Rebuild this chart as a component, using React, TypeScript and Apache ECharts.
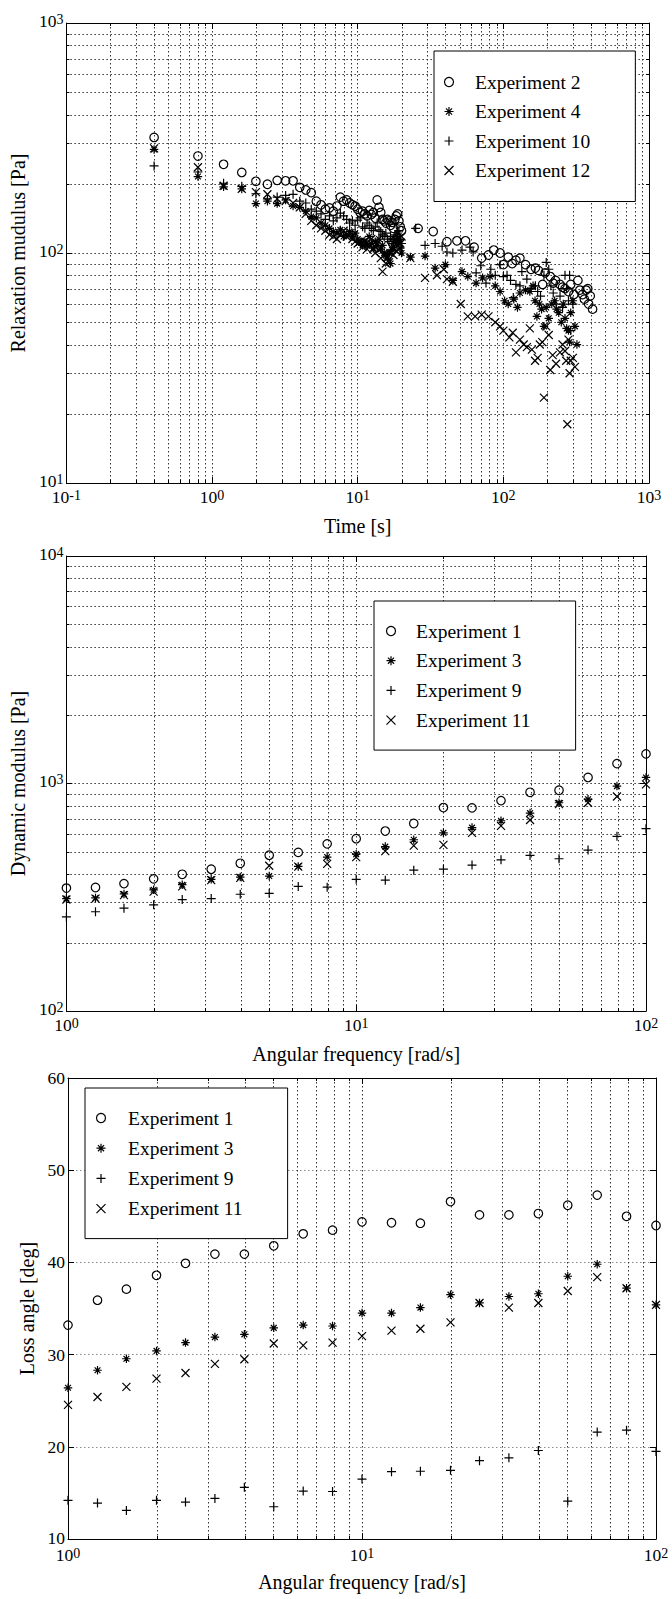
import React, { useEffect, useRef } from "react";
import * as echarts from "echarts";

// ---------- Panel 1: relaxation modulus vs time ([s], [Pa]) ----------
const exp2Relax: [number, number][] = [
  [0.4, 318], [0.8, 264], [1.2, 243], [1.6, 224], [2.0, 205], [2.4, 199], [2.8, 207], [3.2, 206], [3.6, 206], [4.0, 193],
  [4.4, 188], [4.8, 183], [5.2, 168], [5.6, 162], [6.0, 155], [6.4, 157], [6.8, 152], [7.2, 160], [7.6, 175], [8.0, 168],
  [8.4, 170], [8.8, 165], [9.2, 162], [9.6, 160], [10.0, 155], [10.4, 150], [10.8, 152], [11.2, 148], [11.6, 145], [12.0, 153],
  [12.4, 147], [12.8, 150], [13.2, 142], [13.6, 170], [14.0, 158], [14.4, 150], [14.8, 140], [15.2, 138], [15.6, 135], [16.0, 140],
  [16.4, 138], [16.8, 132], [17.2, 136], [17.6, 128], [18.0, 140], [18.4, 145], [18.8, 148], [19.2, 138], [19.6, 130], [20.0, 125],
  [26, 128], [33, 124], [41, 112], [48, 113], [55, 113], [63, 106], [71, 95], [79, 98], [86, 103], [95, 100],
  [100, 89], [108, 96], [115, 90], [122, 93], [130, 95], [142, 89], [155, 85], [166, 86], [174, 84], [186, 73],
  [194, 82], [210, 79], [220, 74], [228, 76], [245, 73], [255, 71], [265, 70], [280, 68], [290, 73], [305, 66],
  [325, 76], [335, 69], [350, 66], [360, 63], [370, 69], [380, 70], [385, 60], [395, 65], [410, 57],
];
const exp4Relax: [number, number][] = [
  [0.4, 282], [0.8, 215], [1.2, 194], [1.6, 190], [2.0, 164], [2.4, 168], [2.8, 164], [3.2, 170], [3.6, 160], [4.0, 158],
  [4.4, 152], [4.8, 144], [5.2, 142], [5.6, 135], [6.0, 132], [6.4, 128], [6.8, 124], [7.2, 122], [7.6, 126], [8.0, 118],
  [8.4, 120], [8.8, 124], [9.2, 118], [9.6, 122], [10.0, 115], [10.4, 112], [10.8, 108], [11.2, 113], [11.6, 108], [12.0, 118],
  [12.4, 110], [12.8, 105], [13.2, 112], [13.6, 108], [14.0, 115], [14.4, 104], [14.8, 108], [15.2, 100], [15.6, 98], [16.0, 95],
  [16.4, 100], [16.8, 90], [17.2, 103], [17.6, 106], [18.0, 114], [18.4, 110], [18.8, 122], [19.2, 112], [19.6, 105], [20.0, 100],
  [23, 96], [29, 97], [34, 86], [40, 89], [45, 76], [52, 83], [57, 79], [65, 74], [72, 78], [81, 79],
  [88, 72], [95, 68], [102, 62], [108, 60], [118, 63], [125, 58], [130, 67], [142, 69], [152, 68], [160, 72],
  [165, 62], [170, 53], [177, 60], [183, 57], [190, 48], [197, 58], [205, 52], [215, 60], [225, 62], [232, 57],
  [240, 55], [250, 50], [258, 60], [265, 52], [272, 47], [280, 46], [285, 41], [290, 55], [300, 62], [310, 48], [320, 40],
];
const exp10Relax: [number, number][] = [
  [0.4, 239], [0.8, 225], [1.2, 201], [1.6, 195], [2.0, 181], [2.4, 172], [2.8, 175], [3.2, 178], [3.6, 180], [4.0, 168],
  [4.4, 165], [4.8, 155], [5.2, 152], [5.6, 148], [6.0, 140], [6.4, 145], [6.8, 138], [7.2, 142], [7.6, 149], [8.0, 145],
  [8.4, 140], [8.8, 135], [9.2, 138], [9.6, 132], [10.0, 139], [10.4, 142], [10.8, 130], [11.2, 128], [11.6, 135], [12.0, 132],
  [12.4, 128], [12.8, 125], [13.2, 130], [13.6, 135], [14.0, 126], [14.4, 124], [14.8, 120], [15.2, 118], [15.6, 122], [16.0, 115],
  [16.4, 112], [16.8, 118], [17.2, 110], [17.6, 115], [18.0, 120], [18.4, 118], [18.8, 112], [19.2, 125], [19.6, 115], [20.0, 110],
  [25, 128], [29, 108], [34, 110], [38, 107], [41, 101], [45, 100], [52, 103], [59, 106], [62, 101], [65, 82],
  [70, 88], [76, 74], [82, 85], [88, 80], [95, 89], [100, 79], [106, 80], [112, 76], [117, 64], [122, 73],
  [130, 72], [134, 83], [145, 77], [155, 70], [166, 72], [172, 68], [180, 65], [190, 80], [197, 91], [205, 85],
  [212, 72], [220, 67], [230, 60], [245, 65], [255, 58], [265, 80], [272, 70], [280, 62], [285, 80], [290, 46], [300, 60],
];
const exp12Relax: [number, number][] = [
  [0.4, 285], [0.8, 236], [1.2, 196], [1.6, 190], [2.0, 184], [2.4, 180], [2.8, 172], [3.2, 168], [3.6, 165], [4.0, 158],
  [4.4, 148], [4.8, 138], [5.2, 132], [5.6, 128], [6.0, 125], [6.4, 120], [6.8, 118], [7.2, 115], [7.6, 120], [8.0, 125],
  [8.4, 118], [8.8, 122], [9.2, 115], [9.6, 112], [10.0, 110], [10.4, 112], [10.8, 106], [11.2, 112], [11.6, 104], [12.0, 108],
  [12.4, 115], [12.8, 104], [13.2, 100], [13.6, 110], [14.0, 103], [14.4, 95], [14.8, 83], [15.2, 98], [15.6, 90], [16.0, 96],
  [16.4, 91], [16.8, 100], [17.2, 105], [17.6, 98], [18.0, 112], [18.4, 102], [18.8, 108], [19.2, 116], [19.6, 110], [20.0, 118],
  [23, 95], [29, 78], [35, 80], [39, 85], [41, 77], [45, 75], [51, 60], [57, 53], [64, 53], [71, 54],
  [79, 53], [88, 50], [95, 48], [100, 46], [110, 43], [116, 45], [122, 37], [130, 42], [138, 40], [145, 39],
  [152, 47], [157, 38], [165, 34], [172, 35], [178, 40], [185, 41], [190, 23.5], [197, 48], [205, 44], [210, 31],
  [218, 36], [230, 33], [245, 37], [255, 40], [265, 37.5], [270, 34], [275, 18], [280, 42], [285, 30], [290, 34], [300, 35], [310, 32],
];

// ---------- Panels 2 & 3: oscillatory tests ----------
const frequency = [1, 1.26, 1.58, 2, 2.51, 3.16, 3.98, 5.01, 6.31, 7.94, 10, 12.6, 15.8, 20, 25.1, 31.6, 39.8, 50.1, 63.1, 79.4, 100];

const dyn1 = [347, 349, 363, 381, 399, 420, 446, 484, 498, 543, 572, 618, 667, 784, 781, 841, 915, 934, 1063, 1223, 1349];
const dyn3 = [312, 314, 327, 341, 359, 379, 388, 392, 432, 475, 489, 528, 566, 607, 640, 686, 741, 823, 853, 974, 1063];
const dyn9 = [259, 273, 283, 293, 309, 312, 326, 329, 353, 350, 379, 376, 416, 420, 438, 462, 483, 467, 510, 586, 633];
const dyn11 = [309, 312, 323, 335, 353, 376, 385, 435, 431, 443, 475, 504, 533, 537, 607, 651, 691, 812, 823, 877, 991];

const loss1 = [33.2, 35.9, 37.1, 38.6, 39.9, 40.9, 40.9, 41.8, 43.1, 43.5, 44.4, 44.3, 44.25, 46.6, 45.15, 45.15, 45.3, 46.2, 47.3, 45.0, 44.0];
const loss3 = [26.4, 28.3, 29.55, 30.4, 31.3, 31.9, 32.2, 32.9, 33.2, 33.1, 34.5, 34.5, 35.1, 36.5, 35.6, 36.3, 36.6, 38.5, 39.8, 37.2, 35.4];
const loss9 = [14.2, 13.9, 13.1, 14.2, 14.0, 14.4, 15.6, 13.5, 15.2, 15.15, 16.5, 17.3, 17.35, 17.45, 18.5, 18.8, 19.6, 14.1, 21.6, 21.8, 19.5];
const loss11 = [24.55, 25.4, 26.5, 27.4, 28.0, 29.0, 29.5, 31.2, 31.0, 31.3, 32.0, 32.6, 32.8, 33.5, 35.6, 35.1, 35.6, 36.9, 38.4, 37.2, 35.4];

const legend1 = ["Experiment 2", "Experiment 4", "Experiment 10", "Experiment 12"];
const legend23 = ["Experiment 1", "Experiment 3", "Experiment 9", "Experiment 11"];

const lossTicks = [10, 20, 30, 40, 50, 60];

// axis extents (decades)
const p1X = [0.1, 1000];
const p1Y = [10, 1000];
const p2X = [1, 100];
const p2Y = [100, 10000];
const p3X = [1, 100];

const FONT = "Liberation Serif";
const GRID = "#333";
const DASH = [1.5, 2.5];

const SYM_CIRCLE = "circle";
const SYM_STAR = "path://M5 0L5 10M0 5L10 5M1.6 1.6L8.4 8.4M8.4 1.6L1.6 8.4";
const SYM_PLUS = "path://M5 0L5 10M0 5L10 5";
const SYM_CROSS = "path://M0 0L10 10M10 0L0 10";

function minorValues(lo: number, hi: number): number[] {
  const out: number[] = [];
  for (let d = lo; d < hi * 0.999; d *= 10) {
    for (let k = 2; k <= 9; k++) out.push(Number((d * k).toPrecision(3)));
  }
  return out;
}

const zip = (xs: number[], ys: number[]) => xs.map((x, i) => [x, ys[i]]);

const supLabel = (v: number) => `{b|10}{s|${Math.round(Math.log10(v))}}`;

const xRich = {
  b: { fontFamily: FONT, fontSize: 17.5, lineHeight: 17.5, color: "#000", padding: [9.5, 0, 0, 0], verticalAlign: "bottom" },
  s: { fontFamily: FONT, fontSize: 14, lineHeight: 14, color: "#000", verticalAlign: "top" },
};
const yRich = {
  b: { fontFamily: FONT, fontSize: 17.5, lineHeight: 17.5, color: "#000", padding: [6, 0, 0, 0], verticalAlign: "bottom" },
  s: { fontFamily: FONT, fontSize: 14, lineHeight: 14, color: "#000", verticalAlign: "top" },
};

const axisLine = { show: true, onZero: false, lineStyle: { color: "#000", width: 1 } };
const tickIn = { show: true, inside: true, length: 6, lineStyle: { color: "#000", width: 1 } };
const nameStyle = { fontFamily: FONT, fontSize: 20, color: "#000" };

function mainX(gridIndex: number, ext: number[], name: string, margin = 5) {
  return {
    type: "log", logBase: 10, gridIndex, min: ext[0], max: ext[1], position: "bottom",
    name, nameLocation: "middle", nameGap: 33, nameTextStyle: nameStyle,
    axisLine, axisTick: tickIn,
    axisLabel: { show: true, margin, formatter: supLabel, rich: xRich, showMinLabel: true, showMaxLabel: true },
    splitLine: { show: true, lineStyle: { color: GRID, width: 1, type: DASH } },
    minorTick: { show: false }, minorSplitLine: { show: false },
  };
}
function mirrorX(gridIndex: number, ext: number[], type = "log") {
  return {
    type, logBase: 10, gridIndex, min: ext[0], max: ext[1], position: "top",
    axisLine, axisTick: tickIn, axisLabel: { show: false }, splitLine: { show: false },
  };
}
function mainYLog(gridIndex: number, ext: number[], name: string, gap: number) {
  return {
    type: "log", logBase: 10, gridIndex, min: ext[0], max: ext[1], position: "left",
    name, nameLocation: "middle", nameGap: gap, nameTextStyle: nameStyle,
    axisLine, axisTick: tickIn,
    axisLabel: { show: true, margin: 3, formatter: supLabel, rich: yRich, padding: [0, 0, 4, 0], showMinLabel: true, showMaxLabel: true },
    splitLine: { show: true, lineStyle: { color: GRID, width: 1, type: DASH } },
  };
}
function mirrorY(gridIndex: number, ext: number[], type = "log", interval?: number) {
  return {
    type, logBase: 10, gridIndex, min: ext[0], max: ext[1], interval, position: "right",
    axisLine, axisTick: tickIn, axisLabel: { show: false }, splitLine: { show: false },
  };
}

function vMinor(yLo: number, yHi: number) {
  return (_p: any, api: any) => {
    const v = api.value(0);
    const a = api.coord([v, yHi]);
    const b = api.coord([v, yLo]);
    const x = Math.round(a[0]) + 0.5;
    return {
      type: "group",
      children: [
        { type: "line", shape: { x1: x, y1: a[1], x2: x, y2: b[1] }, style: { stroke: GRID, lineWidth: 1, lineDash: DASH } },
        { type: "line", shape: { x1: x, y1: b[1], x2: x, y2: b[1] - 3 }, style: { stroke: "#000", lineWidth: 1 } },
        { type: "line", shape: { x1: x, y1: a[1], x2: x, y2: a[1] + 3 }, style: { stroke: "#000", lineWidth: 1 } },
      ],
    };
  };
}
function hMinor(xLo: number, xHi: number) {
  return (_p: any, api: any) => {
    const v = api.value(1);
    const a = api.coord([xLo, v]);
    const b = api.coord([xHi, v]);
    const y = Math.round(a[1]) + 0.5;
    return {
      type: "group",
      children: [
        { type: "line", shape: { x1: a[0], y1: y, x2: b[0], y2: y }, style: { stroke: GRID, lineWidth: 1, lineDash: DASH } },
        { type: "line", shape: { x1: a[0], y1: y, x2: a[0] + 3, y2: y }, style: { stroke: "#000", lineWidth: 1 } },
        { type: "line", shape: { x1: b[0], y1: y, x2: b[0] - 3, y2: y }, style: { stroke: "#000", lineWidth: 1 } },
      ],
    };
  };
}

function scatter(name: string, data: any[], symbol: string, size: number, axis: number) {
  return {
    type: "scatter", name, data, symbol, symbolSize: size,
    xAxisIndex: axis, yAxisIndex: axis, clip: false, z: 3, silent: true,
    itemStyle: { color: "none", borderColor: "#000", borderWidth: 1.2, opacity: 1 },
    emphasis: { disabled: true },
  };
}

function legendBox(left: number, top: number, pad: number[], gap: number, textPad: number, data: string[]) {
  return {
    orient: "vertical", left, top, padding: pad, itemGap: gap, itemWidth: 12, itemHeight: 9,
    borderColor: "#000", borderWidth: 1, backgroundColor: "#fff", selectedMode: false,
    symbolKeepAspect: true,
    formatter: (n: string) => `{t|${n}}`,
    textStyle: {
      fontFamily: FONT, fontSize: 19.5, lineHeight: 20, color: "#000",
      rich: { t: { fontFamily: FONT, fontSize: 19.5, lineHeight: 20, color: "#000", padding: [0, 0, 0, textPad] } },
    },
    itemStyle: { color: "none", borderColor: "#000", borderWidth: 1.2 },
    data, z: 10,
  };
}

export default function App() {
  const ref = useRef<HTMLDivElement>(null);
  useEffect(() => {
    if (!ref.current) return;
    const chart = echarts.init(ref.current, undefined, { renderer: "svg" });
    const option: any = {
      animation: false,
      backgroundColor: "#fff",
      textStyle: { fontFamily: FONT },
      grid: [
        { left: 65, top: 23, width: 584, height: 460 },
        { left: 64, top: 556, width: 582, height: 455 },
        { left: 68, top: 1078, width: 588, height: 461 },
      ],
      legend: [
        legendBox(434, 51, [21, 45, 21, 8], 9.5, 15, legend1),
        legendBox(374, 601, [20, 45, 20, 10], 9.7, 14, legend23),
        legendBox(85, 1088, [20, 45, 20, 9], 10.2, 16, legend23),
      ],
      xAxis: [
        mainX(0, p1X, "Time [s]"),
        mirrorX(0, p1X),
        mainX(1, p2X, "Angular frequency [rad/s]"),
        mirrorX(1, p2X),
        mainX(2, p3X, "Angular frequency [rad/s]", 7),
        mirrorX(2, p3X),
      ],
      yAxis: [
        mainYLog(0, p1Y, "Relaxation mudulus [Pa]", 32),
        mirrorY(0, p1Y),
        mainYLog(1, p2Y, "Dynamic modulus [Pa]", 31),
        mirrorY(1, p2Y),
        {
          type: "value", gridIndex: 2, min: lossTicks[0], max: lossTicks[lossTicks.length - 1], interval: 10, position: "left",
          name: "Loss angle [deg]", nameLocation: "middle", nameGap: 24, nameTextStyle: nameStyle,
          axisLine, axisTick: tickIn,
          axisLabel: {
            show: true, margin: 3, fontFamily: FONT, fontSize: 17.5, color: "#000", showMinLabel: true, showMaxLabel: true,
            formatter: (v: number) => (v === lossTicks[0] ? `{lo|${v}}` : `${v}`),
            rich: { lo: { fontFamily: FONT, fontSize: 17.5, lineHeight: 17.5, color: "#000", padding: [0, 0, 3, 0] } },
          },
          splitLine: { show: true, lineStyle: { color: "#8a8a8a", width: 1, type: DASH } },
        },
        mirrorY(2, [lossTicks[0], lossTicks[lossTicks.length - 1]], "value", 10),
      ],
      series: [
        // minor grids (log decades)
        { type: "custom", xAxisIndex: 0, yAxisIndex: 0, silent: true, z: 1, clip: false, renderItem: vMinor(p1Y[0], p1Y[1]), data: minorValues(p1X[0], p1X[1]).map((v) => [v, p1Y[0]]) },
        { type: "custom", xAxisIndex: 0, yAxisIndex: 0, silent: true, z: 1, clip: false, renderItem: hMinor(p1X[0], p1X[1]), data: minorValues(p1Y[0], p1Y[1]).map((v) => [p1X[0], v]) },
        { type: "custom", xAxisIndex: 2, yAxisIndex: 2, silent: true, z: 1, clip: false, renderItem: vMinor(p2Y[0], p2Y[1]), data: minorValues(p2X[0], p2X[1]).map((v) => [v, p2Y[0]]) },
        { type: "custom", xAxisIndex: 2, yAxisIndex: 2, silent: true, z: 1, clip: false, renderItem: hMinor(p2X[0], p2X[1]), data: minorValues(p2Y[0], p2Y[1]).map((v) => [p2X[0], v]) },
        { type: "custom", xAxisIndex: 4, yAxisIndex: 4, silent: true, z: 1, clip: false, renderItem: vMinor(lossTicks[0], lossTicks[lossTicks.length - 1]), data: minorValues(p3X[0], p3X[1]).map((v) => [v, lossTicks[0]]) },

        scatter(legend1[0], exp2Relax, SYM_CIRCLE, 8.5, 0),
        scatter(legend1[1], exp4Relax, SYM_STAR, 8.5, 0),
        scatter(legend1[2], exp10Relax, SYM_PLUS, 9, 0),
        scatter(legend1[3], exp12Relax, SYM_CROSS, 8, 0),

        scatter(legend23[0], zip(frequency, dyn1), SYM_CIRCLE, 8.5, 2),
        scatter(legend23[1], zip(frequency, dyn3), SYM_STAR, 8.5, 2),
        scatter(legend23[2], zip(frequency, dyn9), SYM_PLUS, 9, 2),
        scatter(legend23[3], zip(frequency, dyn11), SYM_CROSS, 8, 2),

        scatter(legend23[0], zip(frequency, loss1), SYM_CIRCLE, 8.5, 4),
        scatter(legend23[1], zip(frequency, loss3), SYM_STAR, 8.5, 4),
        scatter(legend23[2], zip(frequency, loss9), SYM_PLUS, 9, 4),
        scatter(legend23[3], zip(frequency, loss11), SYM_CROSS, 8, 4),
      ],
    };
    chart.setOption(option);
    return () => chart.dispose();
  }, []);
  return (
    <div
      ref={ref}
      style={{ position: "absolute", left: 0, top: 0, width: 672, height: 1599, background: "#fff" }}
    />
  );
}
